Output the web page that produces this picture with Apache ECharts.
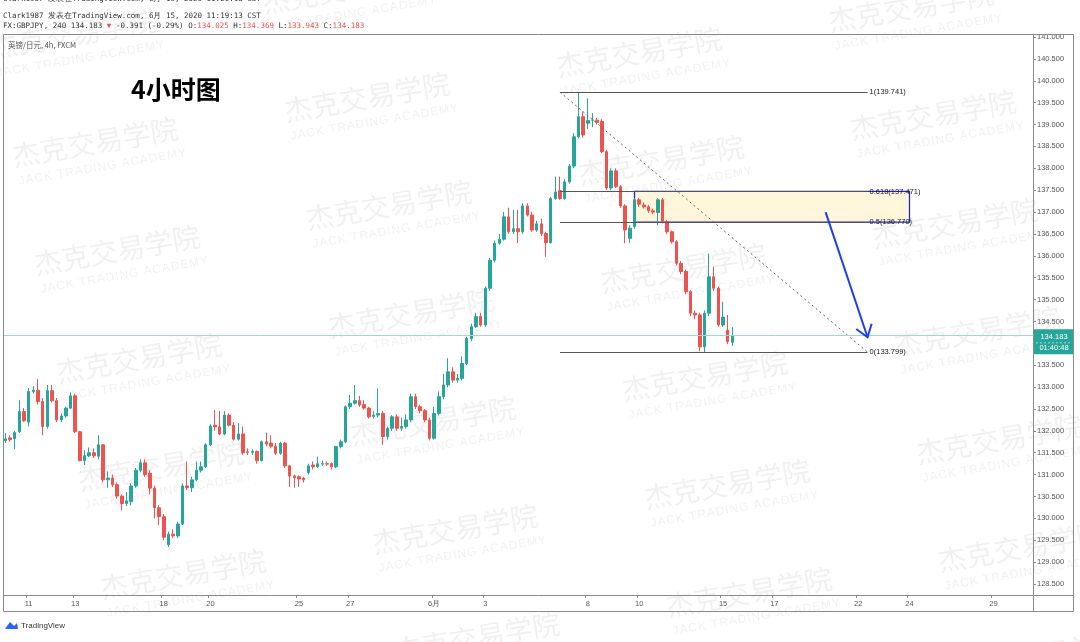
<!DOCTYPE html>
<html><head><meta charset="utf-8">
<script src="https://cdn.jsdelivr.net/npm/echarts@6/dist/echarts.min.js"></script>
<style>html,body{margin:0;padding:0;background:#fff}#c{width:1080px;height:642px}</style>
</head><body><div id="c"></div>
<script>
// ---- data (GBPJPY 4h, FXCM) ----
const opens = [131.78,131.84,131.82,131.98,132.44,132.20,132.90,132.93,132.67,132.10,132.92,132.69,132.25,132.34,132.52,132.80,131.98,131.32,131.43,131.50,131.42,131.68,130.88,130.92,130.77,130.51,130.34,130.38,130.74,131.10,131.27,131.03,130.69,130.24,130.04,129.40,129.64,129.60,129.87,130.74,130.70,130.88,131.10,131.18,131.68,132.13,132.09,131.93,132.36,132.13,131.81,131.93,131.52,131.51,131.53,131.32,131.75,131.72,131.65,131.49,131.72,131.20,130.97,130.95,130.92,131.05,131.22,131.18,131.24,131.25,131.25,131.18,131.64,131.75,132.55,132.63,132.69,132.60,132.52,132.33,132.36,132.40,131.87,132.06,132.32,132.06,132.10,132.25,132.78,132.55,132.46,132.25,131.83,132.40,132.78,133.05,133.35,133.16,133.20,133.54,134.11,134.38,134.62,134.42,135.26,135.90,136.29,136.38,136.89,136.55,136.62,136.55,137.14,136.93,136.59,136.73,136.51,136.30,137.31,137.49,137.31,137.69,138.05,138.72,139.18,139.03,139.10,139.10,139.07,138.38,137.55,137.94,137.58,137.14,136.40,136.67,137.28,137.16,137.12,137.03,136.99,137.28,136.78,136.55,136.32,135.83,135.64,135.18,134.69,134.65,133.92,134.69,135.52,135.26,134.42,134.30,134.025];
const highs = [131.95,131.90,132.00,132.70,132.52,132.98,133.02,133.18,132.75,133.05,133.05,132.75,132.40,132.55,132.88,132.85,132.00,131.56,131.62,131.60,131.90,131.70,131.07,131.00,130.82,130.55,130.60,130.80,131.15,131.35,131.35,131.10,130.75,130.30,130.10,129.70,129.75,129.92,130.80,131.30,130.95,131.30,131.30,131.72,132.15,132.48,132.45,132.45,132.40,132.20,132.18,132.10,131.60,131.58,131.55,131.78,131.96,131.90,131.72,131.75,131.75,131.22,131.00,130.98,130.95,131.25,131.30,131.41,131.32,131.30,131.28,131.66,131.80,132.58,132.82,133.05,132.80,132.70,132.55,132.45,132.97,132.45,132.10,132.36,132.38,132.30,132.38,132.85,132.85,132.60,132.50,132.30,132.55,132.90,133.30,133.66,133.45,133.30,133.70,134.15,134.45,134.70,134.70,135.30,135.95,136.35,136.50,137.00,137.10,137.05,137.05,137.20,137.20,137.00,136.80,136.85,136.55,137.35,137.81,137.81,137.75,138.10,138.80,139.741,139.30,139.60,139.26,139.15,139.12,138.42,138.00,138.00,137.62,137.18,136.70,137.32,137.32,137.22,137.16,137.08,137.32,137.32,136.82,136.58,136.36,135.88,135.68,135.22,134.75,134.70,134.75,136.05,135.75,135.30,134.95,134.65,134.369];
const lows = [131.72,131.75,131.58,131.95,132.20,132.10,132.85,132.60,131.90,132.05,132.65,132.20,132.20,132.30,132.50,131.95,131.30,131.22,131.40,131.38,131.35,130.82,130.70,130.72,130.45,130.18,130.28,130.30,130.70,131.05,130.95,130.55,130.00,129.85,129.50,129.35,129.55,129.55,129.85,130.65,130.60,130.85,131.05,131.15,131.65,132.00,131.90,131.90,132.10,131.78,131.78,131.45,131.45,131.45,131.25,131.30,131.65,131.60,131.45,131.45,131.15,130.72,130.70,130.72,130.82,131.00,131.12,131.15,131.20,131.20,131.12,131.15,131.60,131.72,132.50,132.60,132.55,132.48,132.28,132.28,132.30,131.68,131.80,132.00,132.00,132.00,132.05,132.20,132.50,132.40,132.20,131.78,131.80,132.35,132.72,133.00,133.10,133.10,133.15,133.50,134.05,134.35,134.38,134.38,135.20,135.85,136.25,136.35,136.50,136.50,136.29,136.50,136.90,136.55,136.55,136.45,135.98,136.28,137.28,137.28,137.28,137.65,138.00,138.68,138.70,138.90,138.94,139.00,138.35,137.50,137.50,137.55,137.10,136.29,136.30,136.62,137.12,137.08,136.98,136.95,136.70,136.74,136.50,136.28,135.78,135.58,135.12,134.62,134.55,133.82,133.80,134.62,135.20,134.38,134.38,133.98,133.943];
const closes = [131.82,131.80,131.96,132.44,132.23,132.90,132.93,132.67,132.10,132.92,132.69,132.25,132.34,132.52,132.80,131.98,131.32,131.43,131.50,131.43,131.68,130.88,130.92,130.77,130.51,130.34,130.40,130.74,131.10,131.27,131.00,130.69,130.24,130.04,129.57,129.64,129.60,129.87,130.74,130.70,130.88,131.10,131.18,131.68,132.11,132.09,131.93,132.36,132.13,131.81,131.93,131.50,131.51,131.53,131.32,131.75,131.70,131.65,131.49,131.72,131.20,130.97,130.93,130.90,130.88,131.20,131.18,131.25,131.25,131.24,131.18,131.64,131.75,132.55,132.63,132.69,132.59,132.52,132.32,132.36,132.40,131.87,132.06,132.32,132.06,132.10,132.25,132.78,132.55,132.46,132.25,131.83,132.40,132.78,133.05,133.35,133.16,133.20,133.54,134.11,134.38,134.61,134.42,135.26,135.90,136.29,136.38,136.89,136.55,136.62,136.55,137.14,136.93,136.59,136.73,136.51,136.30,137.31,137.46,137.31,137.69,138.05,138.72,139.18,138.76,139.09,139.10,139.05,138.38,137.55,137.94,137.58,137.14,136.59,136.63,137.28,137.18,137.12,137.03,137.00,137.28,136.78,136.55,136.32,135.83,135.64,135.18,134.69,134.65,133.92,134.69,135.52,135.26,134.42,134.60,134.04,134.183];

// time slots (4h bars, incl. empty future bars) and day tick labels
const slotCount = 221;
const tickSlots = [5,15,34,44,63,74,92,103,125,136,154,165,183,194,212];
const tickLabels = ['11','13','18','20','25','27','6月','3','8','10','15','17','22','24','29'];

// Fibonacci retracement drawing
const fibLevels = [1, 0.618, 0.5, 0];
const fibPrices = [139.741, 137.471, 136.770, 133.799];
const fibSlots = [119, 185];
const zoneSlots = [135, 194];          // highlighted 0.5-0.618 box
const zonePrices = [137.471, 136.770];
const arrowFrom = [176, 137.00];
const arrowTo = [185, 134.14];
const lastPrice = 134.183;
const countdown = '01:40:48';

const UP = '#26a69a', DOWN = '#ef5350';
const categories = Array.from({length: slotCount}, (_, i) => String(i));
const candles = opens.map((o, i) => [o, closes[i], lows[i], highs[i]]);
const tickMap = {};
tickSlots.forEach((s, i) => { tickMap[s] = tickLabels[i]; });

// watermarks
const wmSub = 'JACK TRADING ACADEMY'.split('').join('\u200A');
const wm = [];
for (let i = -1; i <= 4; i++) for (let j = -1; j <= 6; j++) {
  const cx = 95 + 272 * i + 22 * j, cy = 142 - 45 * i + 108 * j;
  if (cx > -120 && cx < 1200 && cy > -40 && cy < 700) {
    wm.push({type: 'group', x: cx, y: cy, rotation: 0.17, z: 100, silent: true, children: [
      {type: 'text', style: {text: '杰克交易学院', x: 0, y: 0, align: 'center', verticalAlign: 'middle',
        font: '28px "Noto Sans CJK SC"', fill: 'rgba(0,0,0,0.058)'}},
      {type: 'text', style: {text: wmSub, x: 3, y: 26, align: 'center', verticalAlign: 'middle',
        font: '12px "Liberation Sans"', fill: 'rgba(0,0,0,0.058)'}}
    ]});
  }
}

const mono = '7.5px "DejaVu Sans Mono"';
const chart = echarts.init(document.getElementById('c'));
chart.setOption({
  animation: false,
  backgroundColor: '#fff',
  grid: {left: 3, right: 47, top: 34, bottom: 47},
  xAxis: {
    type: 'category', data: categories, boundaryGap: true,
    axisLine: {show: false},
    axisTick: {show: true, length: 3, lineStyle: {color: '#8a8a8a'}, interval: (i) => tickMap[i] !== undefined},
    axisLabel: {interval: (i) => tickMap[i] !== undefined, formatter: (v, i) => tickMap[i] || '',
      fontSize: 7.5, color: '#555', margin: 5, fontFamily: 'Liberation Sans'},
    splitLine: {show: false}
  },
  yAxis: {
    type: 'value', position: 'right', min: 128.249, max: 141.069, splitNumber: 26, scale: true,
    axisLine: {show: false},
    axisTick: {show: true, length: 3, lineStyle: {color: '#8a8a8a'}},
    axisLabel: {fontSize: 7.5, color: '#555', margin: 4, fontFamily: 'Liberation Sans',
      showMinLabel: false, showMaxLabel: false,
      formatter: (v) => Math.abs(v * 2 - Math.round(v * 2)) < 1e-6 ? v.toFixed(3) : ''},
    splitLine: {show: false}
  },
  series: [
    {
      type: 'candlestick', data: candles, barWidth: 3, clip: true,
      itemStyle: {color: UP, color0: DOWN, borderColor: UP, borderColor0: DOWN, borderWidth: 1},
      markArea: {silent: true, itemStyle: {color: '#fff6dc', borderColor: '#2b2bb0', borderWidth: 1.3},
        data: [[{coord: [zoneSlots[0], zonePrices[0]]}, {coord: [zoneSlots[1], zonePrices[1]]}]]},
      markLine: {
        silent: true, symbol: ['none', 'none'], animation: false,
        label: {show: true, position: 'end', formatter: '{b}', color: '#131722', fontSize: 7.5, distance: 2,
          fontFamily: 'Liberation Sans'},
        lineStyle: {color: '#555', width: 1, type: 'solid'},
        data: fibPrices.map((p, i) => [
          {name: fibLevels[i] + '(' + p.toFixed(3) + ')', coord: [fibSlots[0], p]},
          {coord: [fibSlots[1], p]}
        ]).concat([{yAxis: lastPrice, name: '', lineStyle: {color: '#9fd8cf', width: 1, type: 'solid'}, label: {show: false}}])
      }
    },
    {
      type: 'line', data: [[fibSlots[0], fibPrices[0]], [fibSlots[1], fibPrices[3]]], symbol: 'none',
      lineStyle: {color: '#666', width: 1, type: [2, 3]}, silent: true, z: 3
    },
    {
      type: 'custom', silent: true, z: 5, clip: false,
      data: [arrowFrom.concat(arrowTo)], encode: {x: [0, 2], y: [1, 3]},
      renderItem: (params, api) => {
        const a = api.coord([api.value(0), api.value(1)]);
        const b = api.coord([api.value(2), api.value(3)]);
        const ang = Math.atan2(b[1] - a[1], b[0] - a[0]);
        const L = 14, sp = 0.62;
        const h1 = [b[0] - L * Math.cos(ang - sp), b[1] - L * Math.sin(ang - sp)];
        const h2 = [b[0] - L * Math.cos(ang + sp), b[1] - L * Math.sin(ang + sp)];
        const st = {stroke: '#1f3fe6', lineWidth: 2, fill: null};
        return {type: 'group', children: [
          {type: 'line', shape: {x1: a[0], y1: a[1], x2: b[0], y2: b[1]}, style: st},
          {type: 'polyline', shape: {points: [h1, b, h2]}, style: st}
        ]};
      }
    },
    {
      type: 'custom', silent: true, z: 6, clip: false,
      data: [[opens.length - 1, lastPrice]],
      renderItem: (params, api) => {
        const y = api.coord([api.value(0), api.value(1)])[1];
        const x0 = params.coordSys.x + params.coordSys.width;
        return {type: 'group', children: [
          {type: 'rect', shape: {x: x0 + 1, y: y - 6, width: 40, height: 25}, style: {fill: UP}},
          {type: 'text', style: {text: lastPrice.toFixed(3), x: x0 + 21, y: y + 1.5, align: 'center', verticalAlign: 'middle', fill: '#fff', font: '7.5px "Liberation Sans"'}},
          {type: 'line', shape: {x1: x0 + 3, y1: y + 7.5, x2: x0 + 39, y2: y + 7.5}, style: {stroke: 'rgba(255,255,255,0.55)', lineDash: [2, 2], lineWidth: 1}},
          {type: 'text', style: {text: countdown, x: x0 + 21, y: y + 13, align: 'center', verticalAlign: 'middle', fill: '#fff', font: '7.5px "Liberation Sans"'}}
        ]};
      }
    }
  ],
  graphic: [
    {type: 'rect', shape: {x: 3.5, y: 34.5, width: 1070, height: 577}, style: {fill: null, stroke: '#8a8a8a', lineWidth: 1}, z: 50, silent: true},
    {type: 'line', shape: {x1: 1033.5, y1: 34, x2: 1033.5, y2: 612}, style: {stroke: '#8a8a8a', lineWidth: 1}, z: 50, silent: true},
    {type: 'line', shape: {x1: 3, y1: 595.5, x2: 1074, y2: 595.5}, style: {stroke: '#8a8a8a', lineWidth: 1}, z: 50, silent: true},
    {type: 'text', style: {text: 'Clark1987 发表在TradingView.com, 6月 15, 2020 11:20:18 CST', x: 3, y: -1, verticalAlign: 'middle', font: mono, fill: '#333'}, z: 50},
    {type: 'text', style: {text: 'Clark1987 发表在TradingView.com, 6月 15, 2020 11:19:13 CST', x: 3, y: 16, verticalAlign: 'middle', font: mono, fill: '#333'}, z: 50},
    {type: 'text', style: {
      text: '{d|FX:GBPJPY, 240 134.183 }{r|▼}{d| -0.391 (-0.29%) O:}{r|134.025}{d| H:}{r|134.369}{d| L:}{r|133.943}{d| C:}{r|134.183}',
      x: 3, y: 26, verticalAlign: 'middle', font: mono,
      rich: {d: {fill: '#333', font: mono}, r: {fill: DOWN, font: mono}}}, z: 50},
    {type: 'text', style: {text: '英镑/日元, 4h, FXCM', x: 8, y: 45, verticalAlign: 'middle', font: '7.5px "Noto Sans CJK SC"', fill: '#555'}, z: 50},
    {type: 'text', style: {text: '4小时图', x: 131, y: 89, verticalAlign: 'middle', font: 'bold 25px "Noto Sans CJK SC"', fill: '#000'}, z: 50},
    {type: 'group', x: 5, y: 621, z: 50, children: [
      {type: 'polygon', shape: {points: [[0, 8], [5, 1], [9, 5], [12, 2], [13, 8]]}, style: {fill: '#2962ff'}},
      {type: 'text', style: {text: 'TradingView', x: 16, y: 5, verticalAlign: 'middle', font: '8px "Liberation Sans"', fill: '#333'}}
    ]}
  ].concat(wm)
});
</script></body></html>
